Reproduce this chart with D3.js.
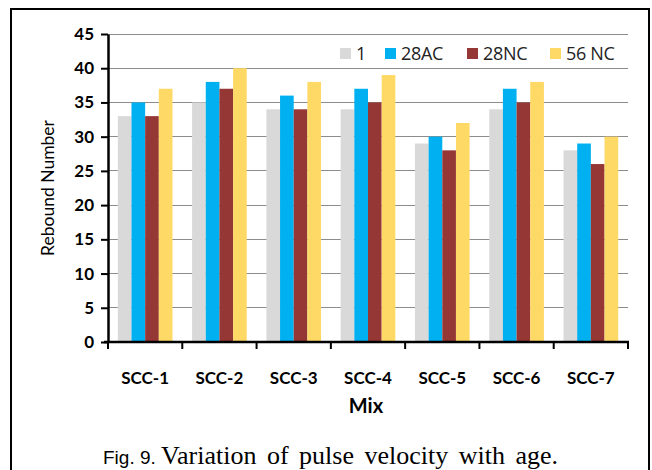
<!DOCTYPE html>
<html>
<head>
<meta charset="utf-8">
<script src="https://cdn.jsdelivr.net/npm/d3@7"></script>
<style>
  html, body { margin: 0; padding: 0; background: #fff; }
  svg { display: block; }
</style>
</head>
<body>
<svg id="chart" width="652" height="470"></svg>
<script>
// Mix designs along the x axis
const mixes = ["SCC-1", "SCC-2", "SCC-3", "SCC-4", "SCC-5", "SCC-6", "SCC-7"];
// Series names (ages / curing)
const seriesNames = ["1", "28AC", "28NC", "56 NC"];
// Rebound numbers for each series, one per mix
const age1   = [33, 35, 34, 34, 29, 34, 28];
const ac28   = [35, 38, 36, 37, 30, 37, 29];
const nc28   = [33, 37, 34, 35, 28, 35, 26];
const nc56   = [37, 40, 38, 39, 32, 38, 30];
const yTicks = [0, 5, 10, 15, 20, 25, 30, 35, 40, 45];
const colors = ["#d9d9d9", "#00b0f0", "#953735", "#ffd966"];

const seriesValues = [age1, ac28, nc28, nc56];

const svg = d3.select("#chart");

// figure frame
svg.append("path")
  .attr("d", "M11,480 V9 H649 V480")
  .attr("fill", "none").attr("stroke", "#000").attr("stroke-width", 2);

const x0 = 108, x1 = 628, yTop = 34, yBot = 342;

const x = d3.scaleBand().domain(mixes).range([x0, x1]).paddingInner(0.264).paddingOuter(0.132);
const xs = d3.scaleBand().domain(seriesNames).range([0, x.bandwidth()]);
const y = d3.scaleLinear().domain([0, 45]).range([yBot, yTop]);

// horizontal gridlines
svg.append("g").selectAll("line").data(yTicks.filter(t => t > 0)).join("line")
  .attr("x1", x0).attr("x2", x1)
  .attr("y1", d => y(d)).attr("y2", d => y(d))
  .attr("stroke", "#8c8c8c").attr("stroke-width", 1).attr("shape-rendering", "crispEdges");

// bars
const groups = svg.append("g").selectAll("g").data(mixes).join("g")
  .attr("transform", d => `translate(${x(d)},0)`);
groups.selectAll("rect")
  .data((m, i) => seriesNames.map((s, k) => ({ s, k, v: seriesValues[k][i] })))
  .join("rect")
  .attr("x", d => xs(d.s))
  .attr("width", xs.bandwidth())
  .attr("y", d => y(d.v))
  .attr("height", d => yBot - y(d.v))
  .attr("fill", d => colors[d.k]);

// y axis
const yAxis = svg.append("g").attr("transform", `translate(${x0},0)`)
  .call(d3.axisLeft(y).tickValues(yTicks).tickSize(7).tickSizeOuter(0).tickPadding(7));
yAxis.select(".domain").attr("stroke", "#000").attr("stroke-width", 2.5);
yAxis.selectAll(".tick line").attr("stroke", "#000").attr("stroke-width", 2);
yAxis.selectAll("text")
  .attr("font-family", "Lato, 'Open Sans', sans-serif")
  .attr("font-weight", "bold").attr("font-size", 17).attr("fill", "#000");

// x axis with ticks at category boundaries
const bounds = d3.range(mixes.length + 1).map(i => x0 + i * (x1 - x0) / mixes.length);
const xAxis = svg.append("g");
xAxis.append("line").attr("x1", x0 - 4).attr("x2", x1 + 1).attr("y1", yBot).attr("y2", yBot)
  .attr("stroke", "#000").attr("stroke-width", 2.5);
xAxis.selectAll("line.tk").data(bounds).join("line").attr("class", "tk")
  .attr("x1", d => d).attr("x2", d => d).attr("y1", yBot).attr("y2", yBot + 7)
  .attr("stroke", "#000").attr("stroke-width", 2);
xAxis.selectAll("text").data(mixes).join("text")
  .attr("x", d => x(d) + x.bandwidth() / 2).attr("y", 384)
  .attr("text-anchor", "middle")
  .attr("font-family", "Lato, 'Open Sans', sans-serif")
  .attr("font-weight", "bold").attr("font-size", 17).attr("fill", "#000")
  .text(d => d);

// axis titles
svg.append("text").attr("x", (x0 + x1) / 2 - 2).attr("y", 413)
  .attr("text-anchor", "middle")
  .attr("font-family", "Lato, 'Open Sans', sans-serif")
  .attr("font-weight", "bold").attr("font-size", 20).text("Mix");
svg.append("text")
  .attr("transform", `translate(54,${(yTop + yBot) / 2}) rotate(-90)`)
  .attr("text-anchor", "middle")
  .attr("font-family", "Lato, 'Open Sans', sans-serif")
  .attr("font-size", 17.5).text("Rebound Number");

// legend
const legendX = [340, 385, 467, 550];
const leg = svg.append("g").selectAll("g").data(seriesNames).join("g")
  .attr("transform", (d, i) => `translate(${legendX[i]},48)`);
leg.append("rect").attr("width", 11).attr("height", 11).attr("fill", (d, i) => colors[i]);
leg.append("text").attr("x", 16).attr("y", 12)
  .attr("font-family", "'Open Sans', sans-serif").attr("font-size", 18)
  .attr("letter-spacing", -0.3)
  .attr("fill", "#222").text(d => d);

// caption
const cap = svg.append("text").attr("x", 103).attr("y", 464);
cap.append("tspan").attr("font-family", "Arial, 'Liberation Sans', sans-serif").attr("font-size", 19).text("Fig. 9. ");
cap.append("tspan").attr("font-family", "'Times New Roman', 'Liberation Serif', serif").attr("font-size", 26)
  .attr("word-spacing", 4).text("Variation of pulse velocity with age.");
</script>
</body>
</html>
